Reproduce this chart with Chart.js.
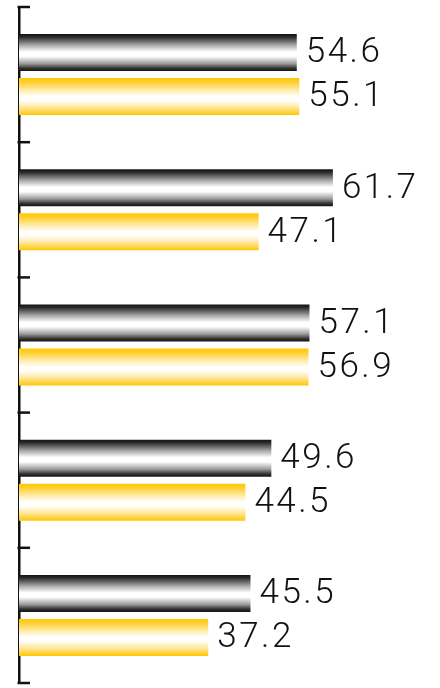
<!DOCTYPE html>
<html>
<head>
<meta charset="utf-8">
<script src="https://cdn.jsdelivr.net/npm/chart.js@4"></script>
<style>
  html, body { margin: 0; padding: 0; background: #fff; }
  #wrap { width: 440px; height: 688px; position: relative; }
</style>
</head>
<body>
<div id="wrap"><canvas id="c"></canvas></div>
<script>
const categories = ['1', '2', '3', '4', '5'];
const seriesBlack = [54.6, 61.7, 57.1, 49.6, 45.5];
const seriesGold = [55.1, 47.1, 56.9, 44.5, 37.2];
const xMin = 0;
const xMax = 80;

const gradientStops = [
  [[0, '#141414'], [0.08, '#2a2a2a'], [0.3, '#a8a8a8'], [0.48, '#ffffff'], [0.6, '#ffffff'], [0.8, '#9a9a9a'], [0.93, '#2e2e2e'], [1, '#141414']],
  [[0, '#ffc800'], [0.12, '#ffd033'], [0.35, '#ffefb8'], [0.5, '#ffffff'], [0.62, '#fffdf5'], [0.82, '#ffe38a'], [1, '#ffc600']]
];

const gradientPlugin = {
  id: 'barGradients',
  beforeDatasetsDraw(chart) {
    const ctx = chart.ctx;
    chart.data.datasets.forEach((ds, di) => {
      const meta = chart.getDatasetMeta(di);
      meta.data.forEach(el => {
        const h = el.height;
        const top = el.y - h / 2;
        const g = ctx.createLinearGradient(0, top, 0, top + h);
        gradientStops[di].forEach(s => g.addColorStop(s[0], s[1]));
        el.options.backgroundColor = g;
      });
    });
  }
};

const labelPlugin = {
  id: 'valueLabels',
  afterDatasetsDraw(chart) {
    const ctx = chart.ctx;
    ctx.save();
    ctx.font = '300 35px Roboto';
    ctx.letterSpacing = '2.5px';
    ctx.fillStyle = '#111';
    ctx.textAlign = 'left';
    ctx.textBaseline = 'middle';
    chart.data.datasets.forEach((ds, di) => {
      const meta = chart.getDatasetMeta(di);
      meta.data.forEach((el, i) => {
        ctx.fillText(ds.data[i].toFixed(1), el.x + 9, el.y + 1);
      });
    });
    ctx.restore();
  }
};

const tickPlugin = {
  id: 'innerTicks',
  afterDraw(chart) {
    const ctx = chart.ctx;
    const y = chart.scales.y;
    const left = chart.chartArea.left;
    ctx.save();
    ctx.strokeStyle = '#111';
    ctx.lineWidth = 2.5;
    for (let i = 0; i <= categories.length; i++) {
      const py = y.getPixelForValue(i - 0.5);
      ctx.beginPath();
      ctx.moveTo(left - 1.5, py);
      ctx.lineTo(left + 11, py);
      ctx.stroke();
    }
    ctx.restore();
  }
};

new Chart(document.getElementById('c'), {
  type: 'bar',
  data: {
    labels: categories,
    datasets: [
      { data: seriesBlack, backgroundColor: () => '#222', borderWidth: 0 },
      { data: seriesGold, backgroundColor: () => '#ffc800', borderWidth: 0 }
    ]
  },
  options: {
    indexAxis: 'y',
    responsive: true,
    maintainAspectRatio: false,
    animation: false,
    categoryPercentage: 0.651,
    barPercentage: 0.84,
    layout: { padding: { top: 7, bottom: 5, left: 19, right: 14 } },
    plugins: { legend: { display: false }, tooltip: { enabled: false } },
    scales: {
      x: { display: false, min: xMin, max: xMax },
      y: {
        display: true,
        ticks: { display: false },
        grid: { display: true, drawOnChartArea: false, drawTicks: false },
        border: { display: true, color: '#111', width: 2.5 }
      }
    }
  },
  plugins: [gradientPlugin, labelPlugin, tickPlugin]
});
</script>
</body>
</html>
